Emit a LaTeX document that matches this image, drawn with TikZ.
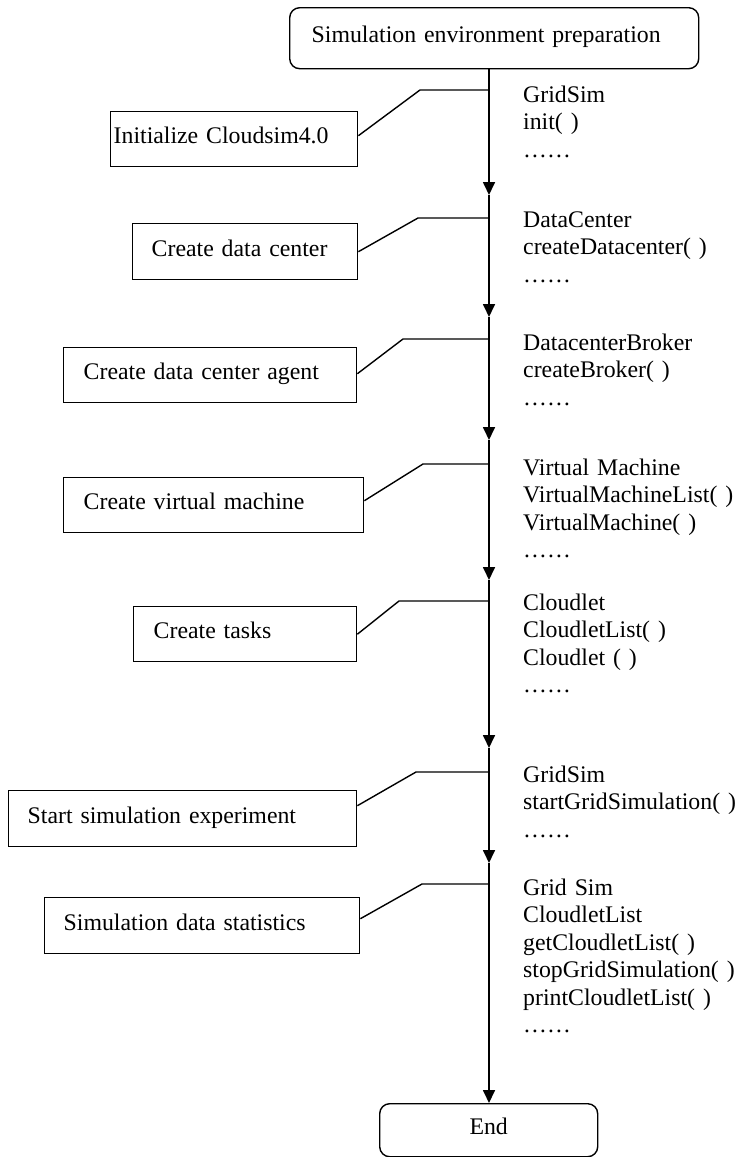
\documentclass[tikz,border=0pt]{standalone}
\usepackage{fontspec}
\setmainfont{Liberation Serif}
\usetikzlibrary{arrows.meta}
\begin{document}
\begin{tikzpicture}[x=1pt,y=-1pt,
  every node/.style={font=\fontsize{23.8pt}{27.5pt}\selectfont},
  stepbox/.style={draw, line width=1.4pt, anchor=north west, inner ysep=0pt, align=left, text height=15pt, text depth=6pt},
  termbox/.style={stepbox, rounded corners=10pt},
  flow/.style={line width=1.7pt, -{Triangle[length=13pt,width=12pt]}},
  callout/.style={line width=1.4pt},
  codetext/.style={anchor=north west, inner sep=0pt, align=left, text width=214pt}
]
\useasboundingbox (0,0) rectangle (737,1157);

% terminal boxes
\node[termbox, minimum height=61pt, inner xsep=22pt, text width=365pt] (start) at (289,7) {Simulation environment preparation};
\node[termbox, minimum height=53pt, inner xsep=0pt, text width=218pt, align=center] (stop) at (379,1103) {End};

% step boxes
\node[stepbox, minimum height=55pt, inner xsep=3pt,  text width=241pt] (b1) at (110,111) {Initialize Cloudsim4.0};
\node[stepbox, minimum height=56pt, inner xsep=19pt, text width=187pt] (b2) at (132,223) {Create data center};
\node[stepbox, minimum height=55pt, inner xsep=20pt, text width=253pt] (b3) at (63,347) {Create data center agent};
\node[stepbox, minimum height=55pt, inner xsep=20pt, text width=260pt] (b4) at (63,477) {Create virtual machine};
\node[stepbox, minimum height=55pt, inner xsep=20pt, text width=183pt] (b5) at (133,606) {Create tasks};
\node[stepbox, minimum height=56pt, inner xsep=19pt, text width=310pt] (b6) at (8,790) {Start simulation experiment};
\node[stepbox, minimum height=56pt, inner xsep=19pt, text width=277pt] (b7) at (44,897) {Simulation data statistics};

% code texts
\node[codetext] (t1) at (523,85.5) {GridSim\\init( )\\……};
\node[codetext] (t2) at (523,211.5) {DataCenter\\createDatacenter( )\\……};
\node[codetext] (t3) at (523,333.5) {DatacenterBroker\\createBroker( )\\……};
\node[codetext] (t4) at (523,458.5) {Virtual Machine\\VirtualMachineList( )\\VirtualMachine( )\\……};
\node[codetext] (t5) at (523,593.5) {Cloudlet\\CloudletList( )\\Cloudlet ( )\\……};
\node[codetext] (t6) at (523,765.5) {GridSim\\startGridSimulation( )\\……};
\node[codetext] (t7) at (523,878.5) {Grid Sim\\CloudletList\\getCloudletList( )\\stopGridSimulation( )\\printCloudletList( )\\……};

% main line points
\coordinate (a1) at (489,195);
\coordinate (a2) at (489,317);
\coordinate (a3) at (489,440);
\coordinate (a4) at (489,580);
\coordinate (a5) at (489,748);
\coordinate (a6) at (489,863);

\draw[flow] (start.south -| a1) -- (a1);
\draw[flow] (a1) -- (a2);
\draw[flow] (a2) -- (a3);
\draw[flow] (a3) -- (a4);
\draw[flow] (a4) -- (a5);
\draw[flow] (a5) -- (a6);
\draw[flow] (a6) -- (a6 |- stop.north);

% callout knees
\coordinate (k1) at (420,90);
\coordinate (k2) at (418,218);
\coordinate (k3) at (403,339);
\coordinate (k4) at (423,464);
\coordinate (k5) at (399,601);
\coordinate (k6) at (416,772);
\coordinate (k7) at (422,884);

\draw[callout] (k1 -| a1) -- (k1) -- ([yshift=3.5pt]b1.east);
\draw[callout] (k2 -| a1) -- (k2) -- (b2.east);
\draw[callout] (k3 -| a1) -- (k3) -- ([yshift=1.5pt]b3.east);
\draw[callout] (k4 -| a1) -- (k4) -- ([yshift=4.5pt]b4.east);
\draw[callout] (k5 -| a1) -- (k5) -- (b5.east);
\draw[callout] (k6 -| a1) -- (k6) -- ([yshift=13pt]b6.east);
\draw[callout] (k7 -| a1) -- (k7) -- ([yshift=7pt]b7.east);
\end{tikzpicture}
\end{document}
